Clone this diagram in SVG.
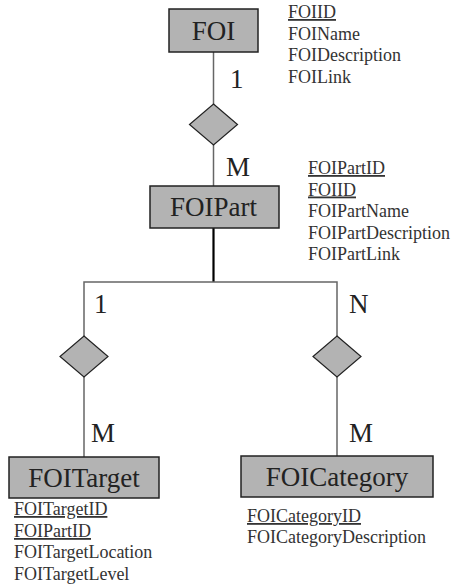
<svg xmlns="http://www.w3.org/2000/svg" width="452" height="586" viewBox="0 0 452 586">
<style>
.ent{fill:#b3b3b3;stroke:#222;stroke-width:1.5}
.rel{fill:#b3b3b3;stroke:#222;stroke-width:1.2}
.en{font-family:"Liberation Serif","Times New Roman",serif;font-size:27px;fill:#222;text-anchor:middle}
.card{font-family:"Liberation Serif","Times New Roman",serif;font-size:27px;fill:#222}
.att{font-family:"Liberation Serif","Times New Roman",serif;font-size:18px;fill:#333}
.key{text-decoration:underline}
.ln{stroke:#666;stroke-width:1.5;fill:none}
.lnb{stroke:#000;stroke-width:2.2;fill:none}
</style>
<rect width="452" height="586" fill="#fff"/>
<g id="connectors">
<line class="ln" x1="213.5" y1="52" x2="213.5" y2="104"/>
<line class="ln" x1="213.5" y1="145" x2="213.5" y2="186"/>
<line class="lnb" x1="213.5" y1="228" x2="213.5" y2="282"/>
<polyline class="ln" points="84,336 84,282 337,282 337,336"/>
<line class="ln" x1="84" y1="377" x2="84" y2="457"/>
<line class="ln" x1="337" y1="377" x2="337" y2="456"/>
<text class="card" x="230" y="88">1</text>
<text class="card" x="226" y="176">M</text>
<text class="card" x="94" y="313">1</text>
<text class="card" x="349" y="313">N</text>
<text class="card" x="91" y="442">M</text>
<text class="card" x="349" y="442">M</text>
</g>
<g id="FOI">
<rect class="ent" x="169" y="9" width="89" height="43"/>
<text class="en" x="213.5" y="40">FOI</text>
<text class="att key" x="288" y="18">FOIID</text>
<text class="att" x="288" y="39.5">FOIName</text>
<text class="att" x="288" y="61">FOIDescription</text>
<text class="att" x="288" y="82.5">FOILink</text>
</g>
<g id="rel-FOI-FOIPart">
<polygon class="rel" points="213.5,104 237.5,124.5 213.5,145 189.5,124.5"/>
</g>
<g id="FOIPart">
<rect class="ent" x="150" y="186" width="129" height="42"/>
<text class="en" x="213.5" y="216">FOIPart</text>
<text class="att key" x="308" y="174">FOIPartID</text>
<text class="att key" x="308" y="195.5">FOIID</text>
<text class="att" x="308" y="217">FOIPartName</text>
<text class="att" x="308" y="238.5">FOIPartDescription</text>
<text class="att" x="308" y="260">FOIPartLink</text>
</g>
<g id="rel-FOIPart-FOITarget">
<polygon class="rel" points="84,336 108,356.5 84,377 60,356.5"/>
</g>
<g id="rel-FOIPart-FOICategory">
<polygon class="rel" points="337,336 361,356.5 337,377 313,356.5"/>
</g>
<g id="FOITarget">
<rect class="ent" x="9" y="457" width="150" height="41"/>
<text class="en" x="84" y="486.5">FOITarget</text>
<text class="att key" x="14" y="515">FOITargetID</text>
<text class="att key" x="14" y="537">FOIPartID</text>
<text class="att" x="14" y="558">FOITargetLocation</text>
<text class="att" x="14" y="580">FOITargetLevel</text>
</g>
<g id="FOICategory">
<rect class="ent" x="241" y="456" width="192" height="41"/>
<text class="en" x="337" y="485.5">FOICategory</text>
<text class="att key" x="247" y="522">FOICategoryID</text>
<text class="att" x="247" y="543">FOICategoryDescription</text>
</g>
</svg>
